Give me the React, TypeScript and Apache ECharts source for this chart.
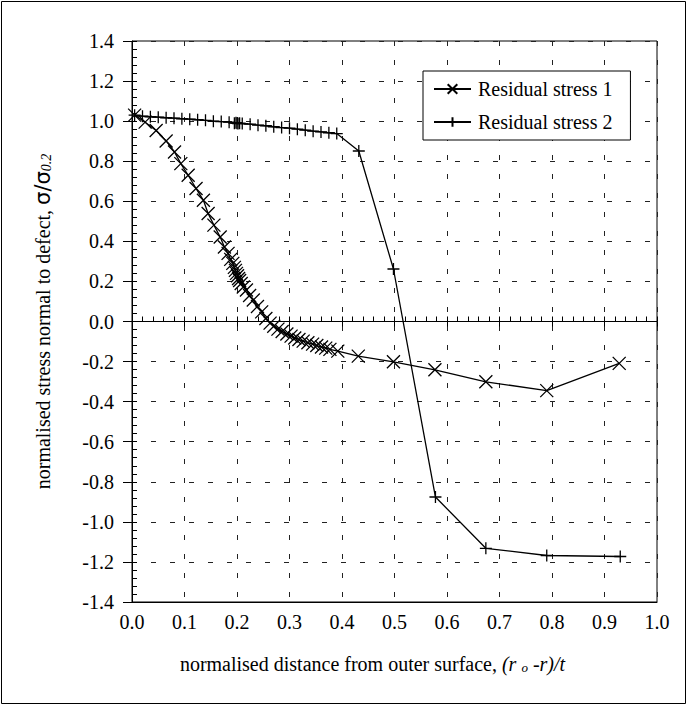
import React, { useEffect, useRef } from "react";
import * as echarts from "echarts";

const xTicks = ["0.0", "0.1", "0.2", "0.3", "0.4", "0.5", "0.6", "0.7", "0.8", "0.9", "1.0"];

const stress1X = [0.005, 0.025, 0.046, 0.065, 0.081, 0.093, 0.107, 0.122, 0.136, 0.145, 0.156, 0.168, 0.176, 0.183, 0.188, 0.192, 0.195, 0.197, 0.199, 0.201, 0.203, 0.205, 0.208, 0.212, 0.218, 0.224, 0.231, 0.239, 0.247, 0.255, 0.263, 0.27, 0.278, 0.286, 0.295, 0.303, 0.31, 0.318, 0.326, 0.335, 0.344, 0.352, 0.361, 0.369, 0.377, 0.392, 0.431, 0.498, 0.577, 0.674, 0.79, 0.928];
const stress1Y = [1.03, 0.995, 0.953, 0.901, 0.846, 0.788, 0.73, 0.664, 0.605, 0.539, 0.481, 0.422, 0.372, 0.34, 0.31, 0.29, 0.27, 0.255, 0.24, 0.228, 0.215, 0.205, 0.19, 0.172, 0.157, 0.13, 0.107, 0.075, 0.048, 0.015, -0.008, -0.024, -0.038, -0.05, -0.062, -0.073, -0.082, -0.09, -0.098, -0.106, -0.113, -0.12, -0.127, -0.133, -0.139, -0.148, -0.173, -0.201, -0.241, -0.301, -0.345, -0.209];

const stress2X = [0.005, 0.02, 0.035, 0.05, 0.065, 0.08, 0.095, 0.11, 0.125, 0.14, 0.155, 0.17, 0.185, 0.195, 0.198, 0.2, 0.202, 0.205, 0.21, 0.225, 0.24, 0.255, 0.27, 0.285, 0.3, 0.315, 0.33, 0.345, 0.36, 0.375, 0.39, 0.432, 0.498, 0.578, 0.674, 0.79, 0.93];
const stress2Y = [1.03, 1.025, 1.022, 1.02, 1.017, 1.015, 1.012, 1.01, 1.007, 1.004, 1.0, 0.998, 0.995, 0.99, 0.992, 0.99, 0.988, 0.99, 0.988, 0.985, 0.98, 0.977, 0.972, 0.968, 0.965, 0.96, 0.955, 0.95, 0.946, 0.942, 0.938, 0.851, 0.262, -0.876, -1.132, -1.168, -1.173];

const seriesNames = ["Residual stress 1", "Residual stress 2"];

const FONT = "Liberation Serif, Times New Roman, serif";

export default function App() {
  const ref = useRef<HTMLDivElement>(null);
  useEffect(() => {
    document.body.style.margin = "0";
    const chart = echarts.init(ref.current!, null, { renderer: "svg" });
    const d1 = stress1X.map((x, i) => [x, stress1Y[i]]);
    const d2 = stress2X.map((x, i) => [x, stress2Y[i]]);
    const grid = { left: 132, right: 31, top: 41, bottom: 104, show: true, borderColor: "#000", borderWidth: 1, backgroundColor: "#fff" };
    const split = { show: true, lineStyle: { color: "#222", type: [5, 14] as any, width: 1 } };
    const yBase = { type: "value", min: -1.4, max: 1.4, interval: 0.2, position: "left" };
    const xBase = { type: "value", min: 0, max: 1, interval: 0.1 };
    const option: any = {
      animation: false,
      backgroundColor: "#fff",
      textStyle: { fontFamily: FONT },
      grid,
      legend: {
        orient: "vertical",
        left: 423,
        top: 71,
        data: seriesNames,
        backgroundColor: "#fff",
        borderColor: "#000",
        borderWidth: 1,
        borderRadius: 0,
        padding: [8, 18, 8, 10],
        itemGap: 13,
        itemWidth: 37,
        itemHeight: 12,
        textStyle: { fontFamily: FONT, fontSize: 20, color: "#000", padding: [0, 0, 0, 2] },
      },
      xAxis: [
        {
          ...xBase,
          position: "bottom",
          axisLine: { show: true, onZero: false, lineStyle: { color: "#000", width: 1 } },
          axisTick: { show: false },
          axisLabel: { show: true, margin: 10, color: "#000", fontSize: 20, fontFamily: FONT, formatter: (v: number) => xTicks[Math.round(v * 10)] },
          splitLine: split,
          name: "normalised distance from outer surface, {i|(r }{sub|o}{i| -r)/t}",
          nameLocation: "middle",
          nameGap: 52,
          nameTextStyle: {
            color: "#000",
            fontSize: 20,
            fontFamily: FONT,
            padding: [0, 44, 0, 0],
            rich: {
              i: { fontStyle: "italic", fontSize: 20, fontFamily: FONT, color: "#000" },
              sub: { fontStyle: "italic", fontSize: 13, fontFamily: FONT, color: "#000", verticalAlign: "bottom" },
            },
          },
        },
        {
          ...xBase,
          position: "bottom",
          axisLine: { show: true, onZero: true, lineStyle: { color: "#000", width: 1 } },
          axisTick: { show: true, inside: true, length: 5, lineStyle: { color: "#000" } },
          minorTick: { show: true, splitNumber: 5, length: 5, lineStyle: { color: "#000" } },
          axisLabel: { show: false },
          splitLine: { show: false },
        },
        {
          ...xBase,
          position: "bottom",
          axisLine: { show: false, onZero: true },
          axisTick: { show: true, inside: false, length: 5, lineStyle: { color: "#000" } },
          axisLabel: { show: false },
          splitLine: { show: false },
        },
      ],
      yAxis: [
        {
          ...yBase,
          axisLine: { show: true, onZero: false, lineStyle: { color: "#000", width: 1 } },
          axisTick: { show: true, inside: false, length: 9, lineStyle: { color: "#000" } },
          axisLabel: { show: true, margin: 18, color: "#000", fontSize: 20, fontFamily: FONT, formatter: (v: number) => v.toFixed(1) },
          splitLine: split,
          name: "normalised stress normal to defect, {s|σ/σ}{sub|0.2}",
          nameLocation: "middle",
          nameGap: 79,
          nameTextStyle: {
            color: "#000",
            fontSize: 20,
            fontFamily: FONT,
            rich: {
              s: { fontSize: 21, fontFamily: "DejaVu Sans", color: "#000" },
              sub: { fontStyle: "italic", fontSize: 14, fontFamily: FONT, color: "#000", verticalAlign: "bottom" },
            },
          },
        },
        {
          ...yBase,
          axisLine: { show: false, onZero: false },
          axisTick: { show: true, inside: true, length: 5, lineStyle: { color: "#000" } },
          minorTick: { show: true, splitNumber: 5, length: 5, lineStyle: { color: "#000" } },
          axisLabel: { show: false },
          splitLine: { show: false },
        },
      ],
      graphic: [
        {
          type: "rect",
          silent: true,
          z: 100,
          shape: { x: 1.5, y: 1.5, width: 684, height: 702 },
          style: { fill: "none", stroke: "#000", lineWidth: 1 },
        },
      ],
      series: [
        {
          name: seriesNames[0],
          type: "line",
          data: d1,
          xAxisIndex: 0,
          yAxisIndex: 0,
          symbol: "path://M0,0L10,10M0,10L10,0",
          symbolSize: 13,
          showAllSymbol: true,
          lineStyle: { color: "#000", width: 1.3 },
          itemStyle: { color: "#000", borderColor: "#000", borderWidth: 1.3 },
          z: 3,
        },
        {
          name: seriesNames[1],
          type: "line",
          data: d2,
          xAxisIndex: 0,
          yAxisIndex: 0,
          symbol: "path://M5,0L5,10M0,5L10,5",
          symbolSize: 12,
          showAllSymbol: true,
          lineStyle: { color: "#000", width: 1.3 },
          itemStyle: { color: "#000", borderColor: "#000", borderWidth: 1.3 },
          z: 3,
        },
      ],
    };
    chart.setOption(option);
    return () => chart.dispose();
  }, []);
  return <div ref={ref} style={{ width: 688, height: 706 }} />;
}
